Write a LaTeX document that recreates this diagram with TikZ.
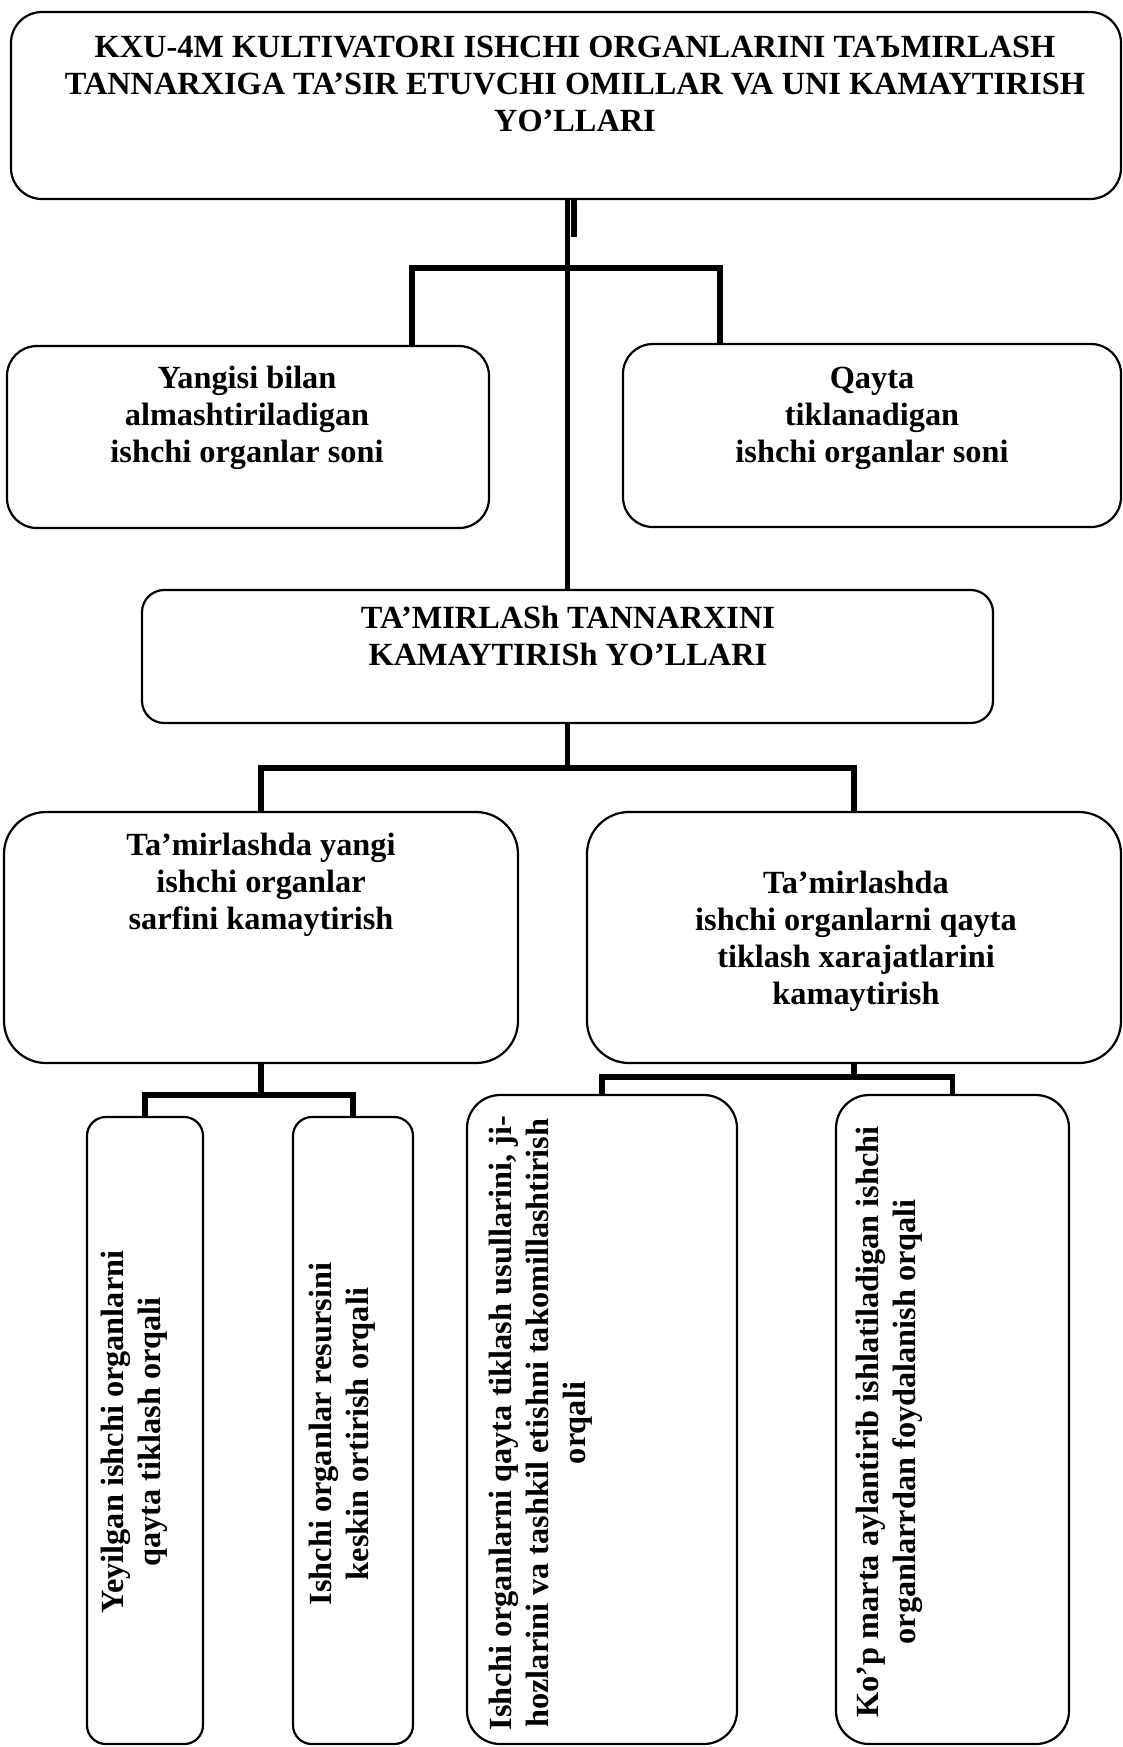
\documentclass[tikz,border=0pt]{standalone}
\usepackage{fontspec}
\setmainfont{Liberation Serif}
\newcommand{\upx}{0.4516pt}
\tikzset{
  box/.style={draw, line width=1pt, rounded corners=#1, inner sep=0pt},
  box/.default=14pt,
  lbl/.style={font=\bfseries\fontsize{14.6}{16.7}\selectfont, align=center, inner sep=0pt},
  conn/.style={line width=2.4pt},
}

\begin{document}
\begin{tikzpicture}[x=\upx, y=-\upx]
\useasboundingbox (0,0) rectangle (1123,1747);

% boxes
\node[box=14pt, minimum width=1110*\upx, minimum height=187*\upx] (top) at (566,105.5) {};
\node[box=13.5pt, minimum width=482*\upx, minimum height=182*\upx] (yangi) at (248,437) {};
\node[box=13.5pt, minimum width=498*\upx, minimum height=183*\upx] (qayta) at (872,435.5) {};
\node[box=10pt, minimum width=851*\upx, minimum height=133*\upx] (mid) at (567.5,656.5) {};
\node[box=19pt, minimum width=514*\upx, minimum height=251*\upx] (sarf) at (261,937.5) {};
\node[box=19pt, minimum width=534*\upx, minimum height=251*\upx] (xarj) at (854,937.5) {};
\node[box=8.5pt, minimum width=116*\upx, minimum height=627*\upx] (yeyil) at (145,1430.5) {};
\node[box=8.5pt, minimum width=120*\upx, minimum height=627*\upx] (resurs) at (353,1430.5) {};
\node[box=15pt, minimum width=270*\upx, minimum height=649*\upx] (usul) at (602,1419.5) {};
\node[box=15pt, minimum width=233*\upx, minimum height=649*\upx] (kop) at (952.5,1419.5) {};

% texts (base = last line)
\node[lbl, anchor=base] (t-top) at (575,131) {KXU-4M KULTIVATORI ISHCHI ORGANLARINI TAЪMIRLASH\\TANNARXIGA TA’SIR ETUVCHI OMILLAR VA UNI KAMAYTIRISH\\YO’LLARI};
\node[lbl, anchor=base] (t-yangi) at (247,462) {Yangisi bilan\\almashtiriladigan\\ishchi organlar soni};
\node[lbl, anchor=base] (t-qayta) at (872,462) {Qayta\\tiklanadigan\\ishchi organlar soni};
\node[lbl, anchor=base] (t-mid) at (568,665) {TA’MIRLASh TANNARXINI\\KAMAYTIRISh YO’LLARI};
\node[lbl, anchor=base] (t-sarf) at (261,929) {Ta’mirlashda yangi\\ishchi organlar\\sarfini kamaytirish};
\node[lbl, anchor=base] (t-xarj) at (856,1004) {Ta’mirlashda\\ishchi organlarni qayta\\tiklash xarajatlarini\\kamaytirish};
\node[lbl, rotate=90, anchor=north] (t-yeyil) at (101,1432) {Yeyilgan ishchi organlarni\\qayta tiklash orqali};
\node[lbl, rotate=90, anchor=north] (t-resurs) at (309,1434) {Ishchi organlar resursini\\keskin ortirish orqali};
\node[lbl, rotate=90, anchor=north] (t-usul) at (489,1423) {Ishchi organlarni qayta tiklash usullarini, ji-\\hozlarini va tashkil etishni takomillashtirish\\orqali};
\node[lbl, rotate=90, anchor=north] (t-kop) at (856,1422) {Ko’p marta aylantirib ishlatiladigan ishchi\\organlarrdan foydalanish orqali};

% connectors
\coordinate (stub) at (574,237);
\coordinate (b1l) at (412,268);
\coordinate (b1r) at (720,268);
\coordinate (j2) at (567.5,768);
\coordinate (j3) at (261,1095);
\coordinate (j4) at (854,1077);

\draw[conn] (mid.north) -- (mid.north |- top.south);
\draw[conn] (top.south -| stub) -- (stub);
\draw[conn] (b1l |- yangi.north) -- (b1l) -- (b1r) -- (b1r |- qayta.north);
\draw[conn] (mid.south) -- (j2);
\draw[conn] (sarf.north) |- (j2) -| (xarj.north);
\draw[conn] (sarf.south) -- (j3);
\draw[conn] (yeyil.north) |- (j3) -| (resurs.north);
\draw[conn] (xarj.south) -- (j4);
\draw[conn] (usul.north) |- (j4) -| (kop.north);

\end{tikzpicture}
\end{document}
